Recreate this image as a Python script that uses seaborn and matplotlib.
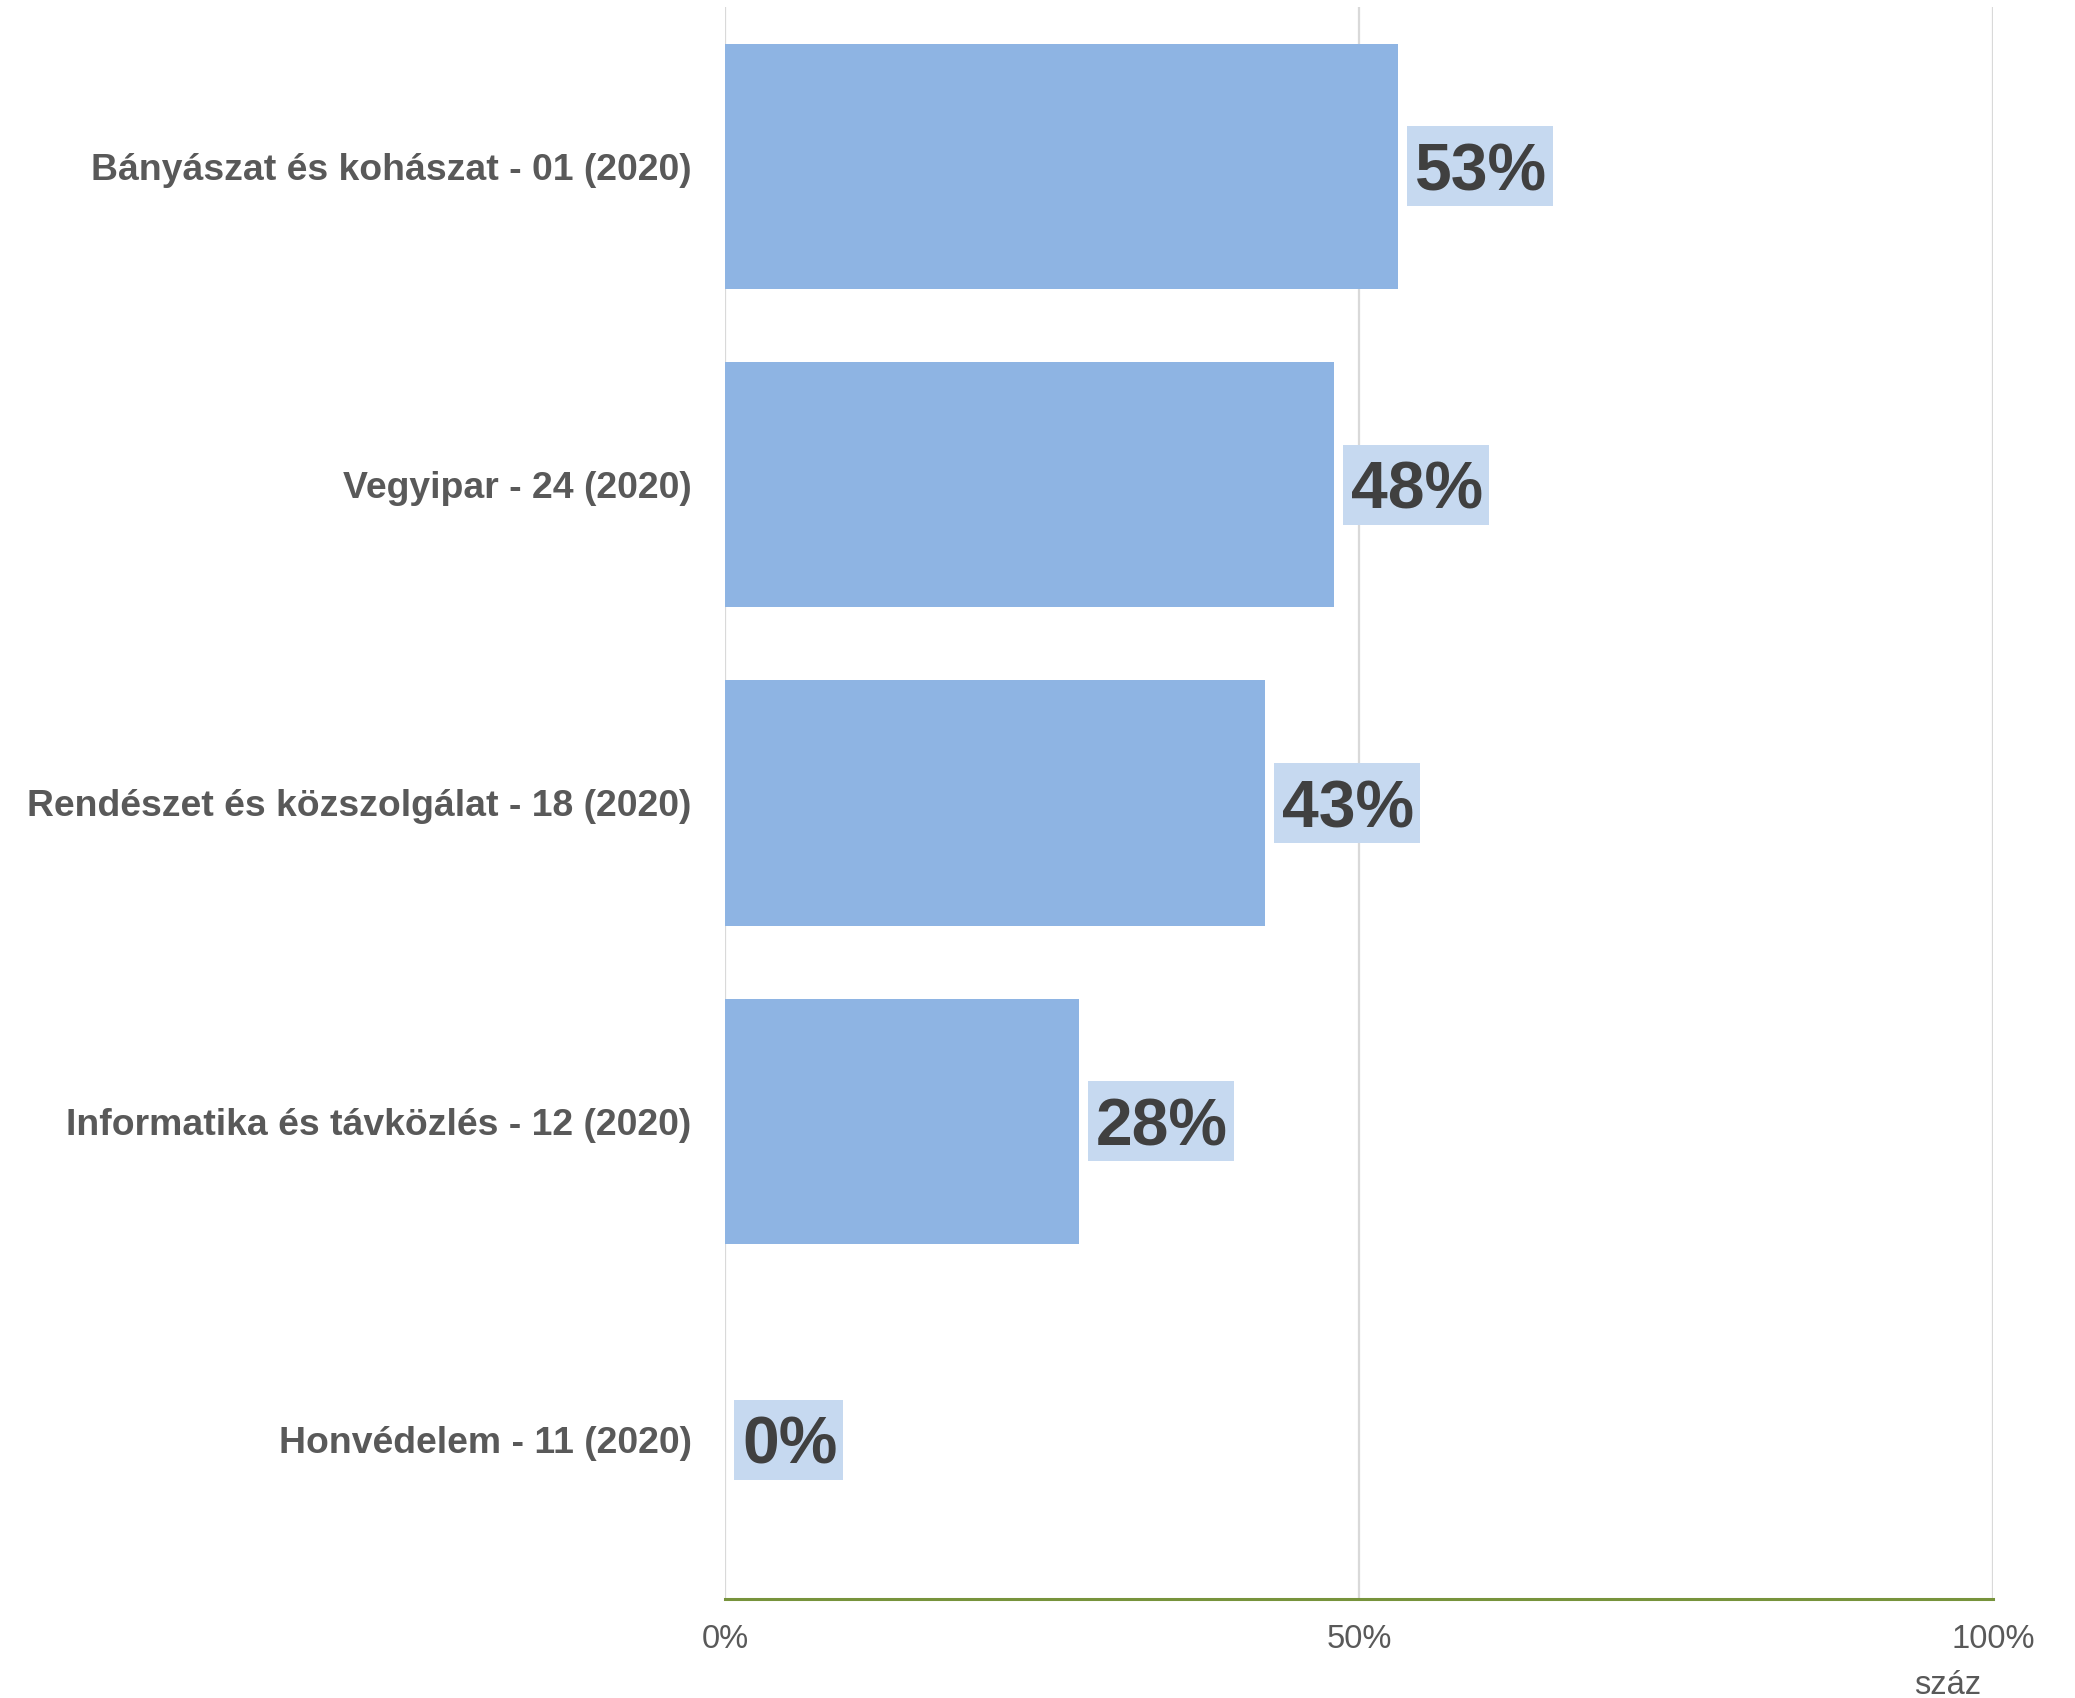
import matplotlib
matplotlib.use("Agg")
import matplotlib.pyplot as plt
from matplotlib.patches import Rectangle
from matplotlib.transforms import IdentityTransform
import seaborn as sns
import pandas as pd

categories = [
    "Bányászat és kohászat - 01 (2020)",
    "Vegyipar - 24 (2020)",
    "Rendészet és közszolgálat - 18 (2020)",
    "Informatika és távközlés - 12 (2020)",
    "Honvédelem - 11 (2020)",
]
values = [53.1, 48.0, 42.6, 27.9, 0]
tick_values = [0, 50, 100]
tick_labels = ["0%", "50%", "100%"]
axis_label = "száz"

sns.set_theme(style="white")
plt.rcParams["font.family"] = ["Liberation Sans", "DejaVu Sans"]

df = pd.DataFrame({"cat": categories, "val": values})

DPI = 100
fig = plt.figure(figsize=(20.75, 16.98), dpi=DPI)
ax = fig.add_axes([0.3494, 0.0583, 0.6111, 0.9376])

sns.barplot(data=df, y="cat", x="val", orient="h", color="#8eb4e3",
            saturation=1, width=0.77, ax=ax, zorder=3, linewidth=0)

ax.set_xlim(0, 100)
ax.set_ylim(4.5, -0.5)
ax.set_xticks(tick_values)
ax.set_xticklabels(tick_labels, fontsize=23.5, color="#595959")
ax.tick_params(axis="x", length=0, pad=18)
ax.tick_params(axis="y", length=0, pad=24)
for lbl in ax.get_yticklabels():
    lbl.set_fontsize(26.9)
    lbl.set_fontweight("bold")
    lbl.set_color("#595959")
ax.set_ylabel("")
ax.set_xlabel(axis_label, fontsize=23.5, color="#595959")
ax.xaxis.label.set_va("baseline")
ax.xaxis.set_label_coords(0.9645, -0.0595)

for x in tick_values:
    ax.axvline(x, color="#d9d9d9", lw=1.6, zorder=1)

for s in ["top", "right", "left"]:
    ax.spines[s].set_visible(False)
ax.spines["bottom"].set_color("#77933c")
ax.spines["bottom"].set_linewidth(2.2)
ax.spines["bottom"].set_zorder(4)

# value labels with light-blue boxes
fs = 47.5
cap_px = 0.729 * fs * DPI / 72.0
gap_px, padx_px, pady_px = 9, 10, 16
texts = []
for i, v in enumerate(values):
    t = ax.annotate(f"{v:.0f}%", xy=(v, i),
                    xytext=((gap_px + padx_px - 2) * 72 / DPI, -cap_px / 2 * 72 / DPI),
                    textcoords="offset points", ha="left", va="baseline",
                    fontsize=fs, fontweight="bold", color="#404040", zorder=7,
                    annotation_clip=False)
    texts.append(t)

fig.canvas.draw()
renderer = fig.canvas.get_renderer()
for i, (v, t) in enumerate(zip(values, texts)):
    ax_px, ay_px = ax.transData.transform((v, i))
    ext = t.get_window_extent(renderer)
    base = ay_px - cap_px / 2
    left = ax_px + gap_px
    right = ext.x1 + padx_px - 4
    bottom = base - pady_px
    top = base + cap_px + pady_px
    rect = Rectangle((left, bottom), right - left, top - bottom,
                     transform=IdentityTransform(), facecolor="#c6d9f0",
                     edgecolor="none", zorder=5)
    ax.add_artist(rect)
    rect.set_transform(IdentityTransform())
    rect.set_clip_on(False)

fig.savefig("out.png", dpi=DPI)
